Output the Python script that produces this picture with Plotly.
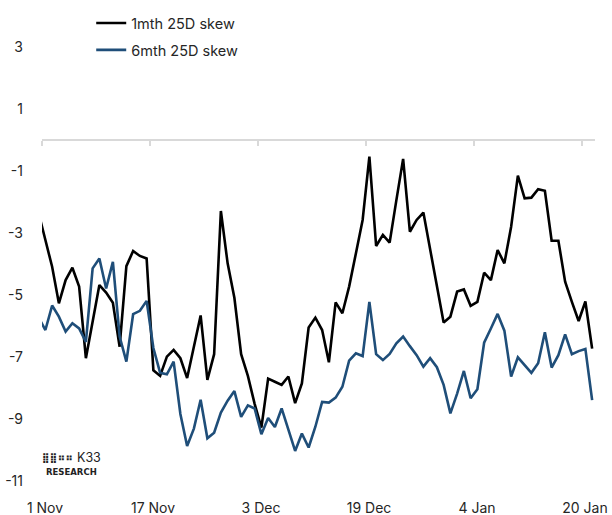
import plotly.graph_objects as go
from datetime import datetime, timedelta

# Daily observations (noon stamps), 31 Oct 2024 .. 21 Jan 2025
skew_1m = [-2.35, -3.22, -4.08, -5.26, -4.51, -4.11, -4.72, -7.03, -5.90, -4.67,
           -4.91, -5.24, -6.66, -4.06, -3.57, -3.73, -3.81, -7.42, -7.60, -6.98,
           -6.76, -7.03, -7.67, -6.66, -5.65, -7.73, -6.90, -2.28, -3.97, -5.08,
           -6.90, -7.60, -8.50, -9.27, -7.69, -7.79, -7.89, -7.62, -8.48, -7.84,
           -6.04, -5.72, -6.12, -7.16, -5.23, -5.58, -4.72, -3.65, -2.57, -0.53,
           -3.41, -3.05, -3.30, -1.93, -0.60, -2.95, -2.57, -2.33, -3.54, -4.72,
           -5.88, -5.69, -4.88, -4.81, -5.34, -5.21, -4.27, -4.51, -3.54, -3.97,
           -2.79, -1.14, -1.87, -1.85, -1.58, -1.63, -3.24, -3.24, -4.56, -5.21,
           -5.83, -5.20, -6.72]
skew_6m = [-5.72, -6.12, -5.33, -5.69, -6.17, -5.90, -6.07, -6.50, -4.13, -3.81,
           -4.78, -3.92, -6.33, -7.14, -5.61, -5.50, -5.18, -6.70, -7.50, -7.55,
           -7.14, -8.83, -9.86, -9.30, -8.37, -9.61, -9.43, -8.78, -8.40, -8.09,
           -8.92, -8.55, -8.65, -9.48, -8.96, -9.25, -8.65, -9.35, -10.02, -9.46,
           -9.91, -9.24, -8.44, -8.46, -8.30, -7.95, -7.11, -6.87, -6.96, -5.21,
           -6.90, -7.09, -6.89, -6.55, -6.33, -6.64, -6.93, -7.30, -7.03, -7.32,
           -7.89, -8.81, -8.17, -7.44, -8.32, -8.03, -6.53, -6.07, -5.60, -6.14,
           -7.62, -7.00, -7.25, -7.50, -7.19, -6.19, -7.33, -6.93, -6.26, -6.90,
           -6.80, -6.73, -8.38]
series_names = ["1mth 25D skew", "6mth 25D skew"]
x_tick_dates = ["2024-11-01", "2024-11-17", "2024-12-03", "2024-12-19", "2025-01-04", "2025-01-20"]
x_tick_text = ["1 Nov", "17 Nov", "3 Dec", "19 Dec", "4 Jan", "20 Jan"]
y_tick_vals = [3, 1, -1, -3, -5, -7, -9, -11]

start = datetime(2024, 10, 31, 12)
dates = [start + timedelta(days=i) for i in range(len(skew_1m))]

x_range = [datetime(2024, 11, 1), datetime(2024, 11, 1) + timedelta(days=553 / 6.75)]
y_range = [-11.313, 4.203]
zero_pos = (0 - y_range[0]) / (y_range[1] - y_range[0])

FONT = "Inter"
TXT = "#262626"
fig = go.Figure()
fig.add_trace(go.Scatter(x=dates, y=skew_1m, mode="lines", name=series_names[0],
                         legendgroup="a", line=dict(color="#000000", width=2.6)))
fig.add_trace(go.Scatter(x=dates, y=skew_6m, mode="lines", name=series_names[1],
                         legendgroup="b", line=dict(color="#1F4E79", width=2.6)))
# carrier trace so the zero-crossing date axis is drawn
fig.add_trace(go.Scatter(x=[dates[0]], y=[None], xaxis="x2", yaxis="y", mode="lines",
                         showlegend=False, hoverinfo="skip"))

fig.update_layout(
    width=612, height=515,
    margin=dict(l=42, r=17, t=10, b=24, autoexpand=False),
    paper_bgcolor="white", plot_bgcolor="white",
    font=dict(family=FONT, size=14, color=TXT),
    showlegend=True,
    legend=dict(x=0.089, y=1.006, xanchor="left", yanchor="top",
                bgcolor="rgba(0,0,0,0)", font=dict(size=14.5, color=TXT),
                tracegroupgap=5, traceorder="grouped"),
    xaxis=dict(type="date", range=x_range, tickvals=x_tick_dates, ticktext=x_tick_text,
               showgrid=False, showline=False, zeroline=False, ticks="", automargin=False,
               ticklabelstandoff=7, ticklabelshift=3,
               tickfont=dict(size=14, color=TXT)),
    xaxis2=dict(type="date", range=x_range, overlaying="x", anchor="free", position=zero_pos,
                tickvals=x_tick_dates, showticklabels=False, showgrid=False, automargin=False,
                showline=True, linecolor="#D9D9D9", linewidth=1.5,
                ticks="outside", ticklen=5, tickwidth=1.5, tickcolor="#D9D9D9"),
    yaxis=dict(range=y_range, tickvals=y_tick_vals, ticktext=[str(v) for v in y_tick_vals],
               showgrid=False, zeroline=False, showline=False, ticks="", automargin=False,
               ticklabelstandoff=18, tickfont=dict(size=14, color=TXT)),
)

fig.add_annotation(xref="paper", yref="paper", x=-0.004, y=0.069, xanchor="left", yanchor="middle",
                   text="<b>⣿⣿⠶⠶</b>", showarrow=False,
                   font=dict(family="DejaVu Sans", size=10, color="#222222"))
fig.add_annotation(xref="paper", yref="paper", x=0.060, y=0.069, xanchor="left", yanchor="middle",
                   text="K33", showarrow=False, font=dict(family=FONT, size=12.5, color="#222222"))
fig.add_annotation(xref="paper", yref="paper", x=0.004, y=0.040, xanchor="left", yanchor="middle",
                   text="<b>RESEARCH</b>", showarrow=False,
                   font=dict(family="DejaVu Sans", size=8.5, color="#222222"))

fig.write_html("out.html")
